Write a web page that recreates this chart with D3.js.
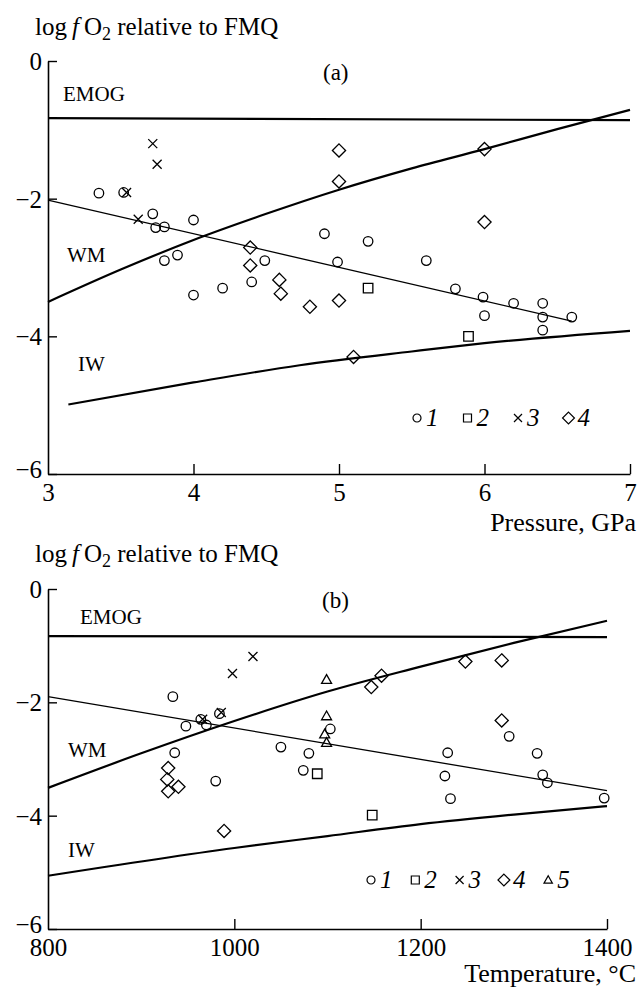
<!DOCTYPE html>
<html>
<head>
<meta charset="utf-8">
<script src="https://cdn.jsdelivr.net/npm/d3@7"></script>
<style>
  html, body { margin: 0; padding: 0; background: #fff; }
  svg { display: block; }
  text { font-family: "Liberation Serif", "DejaVu Serif", serif; fill: #000; }
</style>
</head>
<body>
<svg id="chart" width="638" height="988"></svg>
<script>
// ---------------- DATA ----------------
// Panel (a): Pressure, GPa
const pressureTicks = [3, 4, 5, 6, 7];
const yTicks = [0, -2, -4, -6];

const a_series1 = [ // circles  [P, logfO2]
  [3.35,-1.92],[3.52,-1.91],[3.72,-2.22],[3.74,-2.42],[3.80,-2.41],[4.00,-2.31],
  [3.80,-2.90],[3.89,-2.82],[4.00,-3.40],[4.20,-3.30],[4.40,-3.21],[4.49,-2.90],
  [4.90,-2.51],[4.99,-2.92],[5.20,-2.62],[5.60,-2.90],[5.80,-3.31],[5.99,-3.43],
  [6.00,-3.70],[6.20,-3.52],[6.40,-3.52],[6.40,-3.72],[6.40,-3.91],[6.60,-3.72]
];
const a_series2 = [[5.20,-3.30],[5.89,-4.00]]; // squares
const a_series3 = [[3.72,-1.20],[3.75,-1.50],[3.54,-1.91],[3.62,-2.30]]; // crosses
const a_series4 = [ // diamonds
  [4.39,-2.71],[4.39,-2.97],[4.59,-3.18],[4.60,-3.38],[4.80,-3.57],
  [5.00,-1.30],[5.00,-1.75],[5.00,-3.48],[6.00,-1.28],[6.00,-2.34],[5.10,-4.30]
];
const a_EMOG = [[3,-0.83],[7,-0.86]];
const a_WM = [[3,-3.50],[3.5,-3.03],[4,-2.60],[4.5,-2.22],[5,-1.87],[5.5,-1.56],[6,-1.28],[6.5,-0.99],[7,-0.71]];
const a_IW = [[3.14,-4.99],[4,-4.67],[4.73,-4.42],[5.5,-4.22],[6,-4.10],[7,-3.92]];
const a_fit = [[3,-2.02],[6.6,-3.78]];

// Panel (b): Temperature, °C
const tempTicks = [800, 1000, 1200, 1400];
const b_series1 = [ // circles [T, logfO2]
  [934,-1.90],[948,-2.42],[964,-2.30],[970,-2.40],[984,-2.20],[936,-2.89],[980,-3.39],
  [1050,-2.79],[1080,-2.90],[1074,-3.20],[1103,-2.47],[1229,-2.89],[1226,-3.30],
  [1232,-3.70],[1295,-2.60],[1325,-2.90],[1331,-3.28],[1336,-3.42],[1397,-3.69]
];
const b_series2 = [[1089,-3.26],[1148,-3.99]]; // squares
const b_series3 = [[1020,-1.19],[998,-1.49],[986,-2.18],[966,-2.30]]; // crosses
const b_series4 = [ // diamonds
  [929,-3.16],[928,-3.36],[940,-3.49],[929,-3.57],[989,-4.27],
  [1147,-1.73],[1158,-1.53],[1248,-1.28],[1287,-1.26],[1287,-2.32]
];
const b_series5 = [[1099,-1.60],[1099,-2.24],[1097,-2.56],[1099,-2.71]]; // triangles
const b_EMOG = [[800,-0.83],[1400,-0.85]];
const b_WM = [[800,-3.51],[900,-2.90],[1000,-2.33],[1100,-1.81],[1200,-1.37],[1300,-0.95],[1400,-0.56]];
const b_IW = [[800,-5.06],[1000,-4.57],[1100,-4.36],[1200,-4.15],[1300,-3.98],[1400,-3.83]];
const b_fit = [[800,-1.90],[1400,-3.56]];

const legendA = ["1","2","3","4"];
const legendB = ["1","2","3","4","5"];
const markerTypes = ["circle","square","cross","diamond","triangle"];

// ---------------- DRAWING ----------------
const svg = d3.select("#chart");

function markerPath(type, s) {
  const p = d3.path();
  if (type === "circle") { p.arc(0, 0, s/2, 0, 2*Math.PI); p.closePath(); }
  else if (type === "square") { p.rect(-s/2, -s/2, s, s); }
  else if (type === "cross") { const h = s/2; p.moveTo(-h,-h); p.lineTo(h,h); p.moveTo(-h,h); p.lineTo(h,-h); }
  else if (type === "diamond") { const h = s*0.66; p.moveTo(0,-h); p.lineTo(h,0); p.lineTo(0,h); p.lineTo(-h,0); p.closePath(); }
  else if (type === "triangle") { const h = s/2; p.moveTo(0,-h*1.05); p.lineTo(h*1.05,h*0.8); p.lineTo(-h*1.05,h*0.8); p.closePath(); }
  return p.toString();
}

function title(g, x, y) {
  const t = g.append("text").attr("x", x).attr("y", y).attr("font-size", 25);
  t.append("tspan").text("log\u2009");
  t.append("tspan").attr("font-style", "italic").text("f\u2009");
  t.append("tspan").text("O");
  t.append("tspan").attr("font-size", 18).attr("dy", 5).text("2");
  t.append("tspan").attr("dy", -5).text(" relative to FMQ");
}

function panel(cfg) {
  const g = svg.append("g");
  const x = d3.scaleLinear().domain(cfg.xDomain).range(cfg.xRange);
  const y = d3.scaleLinear().domain([-6, 0]).range(cfg.yRange);

  // axes
  const ya = g.append("g").attr("transform", `translate(${cfg.xRange[0]},0)`)
    .call(d3.axisLeft(y).tickValues(yTicks).tickSize(-9).tickSizeOuter(0).tickPadding(6).tickFormat(d3.format("d")));
  const xa = g.append("g").attr("transform", `translate(0,${cfg.yRange[0]})`)
    .call(d3.axisBottom(x).tickValues(cfg.xTicks).tickSize(-10).tickSizeOuter(0).tickPadding(9).tickFormat(d3.format("d")));
  [ya, xa].forEach(a => {
    a.attr("font-family", null).attr("font-size", null);
    a.selectAll("path.domain").attr("stroke", "#000").attr("stroke-width", 1.6);
    a.selectAll(".tick line").attr("stroke", "#000").attr("stroke-width", 1.4);
    a.selectAll("text").attr("font-size", 25).attr("fill", "#000");
  });
  ya.selectAll(".tick text").filter(d => d === -6).attr("dy", "0.12em");
  ya.selectAll(".tick text").filter(d => d !== -6).attr("dy", "0.34em");
  xa.selectAll(".tick").filter(d => d === cfg.xDomain[0]).select("line").remove();

  // reference curves
  const line = d3.line().x(d => x(d[0])).y(d => y(d[1]));
  const curve = d3.line().x(d => x(d[0])).y(d => y(d[1])).curve(d3.curveMonotoneX);
  g.append("path").attr("d", line(cfg.emog)).attr("fill", "none").attr("stroke", "#000").attr("stroke-width", 2.2);
  g.append("path").attr("d", curve(cfg.wm)).attr("fill", "none").attr("stroke", "#000").attr("stroke-width", 2.2);
  g.append("path").attr("d", curve(cfg.iw)).attr("fill", "none").attr("stroke", "#000").attr("stroke-width", 2.2);
  g.append("path").attr("d", line(cfg.fit)).attr("fill", "none").attr("stroke", "#000").attr("stroke-width", 1.3);

  // points
  cfg.series.forEach((s, i) => {
    const type = markerTypes[i];
    g.append("g").selectAll("path").data(s).join("path")
      .attr("transform", d => `translate(${x(d[0])},${y(d[1])})`)
      .attr("d", markerPath(type, type === "diamond" ? 10 : (type === "cross" ? 9 : 9.5)))
      .attr("fill", "none").attr("stroke", "#000").attr("stroke-width", 1.3);
  });

  // labels
  title(g, 35, cfg.titleY);
  g.append("text").attr("x", cfg.emogLbl[0]).attr("y", cfg.emogLbl[1]).attr("font-size", 21).text("EMOG");
  g.append("text").attr("x", cfg.wmLbl[0]).attr("y", cfg.wmLbl[1]).attr("font-size", 21).text("WM");
  g.append("text").attr("x", cfg.iwLbl[0]).attr("y", cfg.iwLbl[1]).attr("font-size", 21).text("IW");
  g.append("text").attr("x", cfg.tag[0]).attr("y", cfg.tag[1]).attr("font-size", 23).text(cfg.tagText);
  g.append("text").attr("x", 636).attr("y", cfg.xTitleY).attr("text-anchor", "end").attr("font-size", 26).text(cfg.xTitle);

  // legend
  const lg = g.append("g").attr("transform", `translate(${cfg.legend[0]},${cfg.legend[1]})`);
  cfg.legendItems.forEach((lab, i) => {
    const gx = i * cfg.legendStep;
    lg.append("path").attr("transform", `translate(${gx},0)`)
      .attr("d", markerPath(markerTypes[i], markerTypes[i] === "diamond" ? 9 : 8))
      .attr("fill", "none").attr("stroke", "#000").attr("stroke-width", 1.2);
    lg.append("text").attr("x", gx + 9).attr("y", 8).attr("font-size", 25).attr("font-style", "italic").text(lab);
  });
}

panel({
  xDomain: [3, 7], xRange: [48, 630], yRange: [474, 61], xTicks: pressureTicks,
  emog: a_EMOG, wm: a_WM, iw: a_IW, fit: a_fit,
  series: [a_series1, a_series2, a_series3, a_series4],
  titleY: 35, emogLbl: [63, 101], wmLbl: [67, 262], iwLbl: [78, 371],
  tag: [323, 80], tagText: "(a)", xTitle: "Pressure, GPa", xTitleY: 531,
  legend: [417, 418], legendStep: 50.5, legendItems: legendA
});

panel({
  xDomain: [800, 1400], xRange: [48, 607], yRange: [929, 589], xTicks: tempTicks,
  emog: b_EMOG, wm: b_WM, iw: b_IW, fit: b_fit,
  series: [b_series1, b_series2, b_series3, b_series4, b_series5],
  titleY: 562, emogLbl: [80, 624], wmLbl: [68, 757], iwLbl: [68, 857],
  tag: [322, 608], tagText: "(b)", xTitle: "Temperature, \u00B0C", xTitleY: 982,
  legend: [371, 880], legendStep: 44.3, legendItems: legendB
});
</script>
</body>
</html>
